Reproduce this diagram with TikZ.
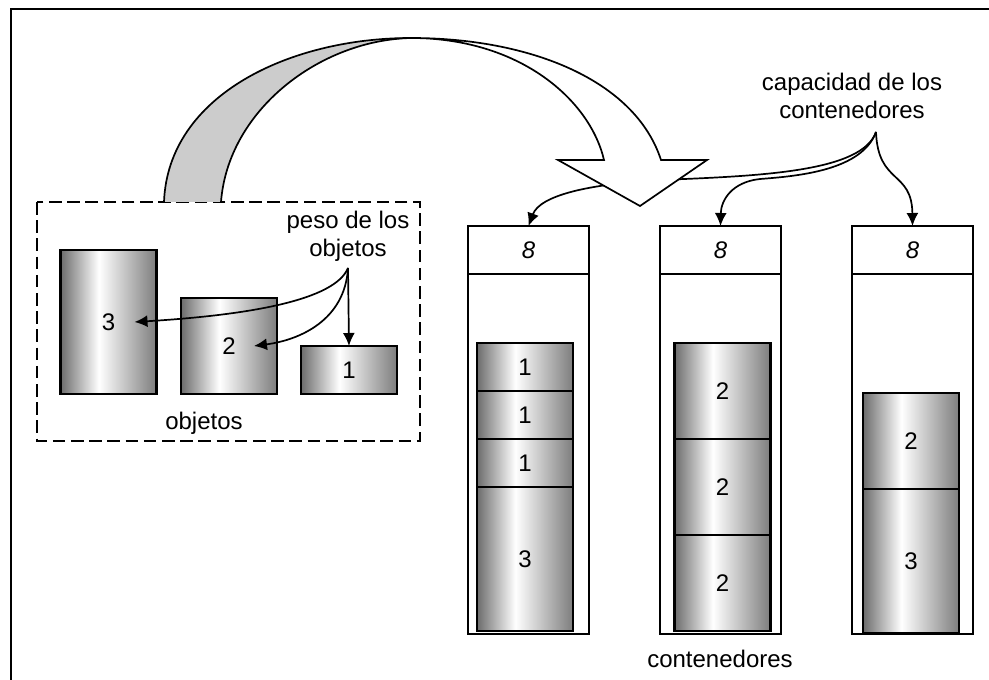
\documentclass[tikz,border=0pt]{standalone}
\usepackage{fontspec}
\setmainfont{Liberation Sans}
\usepackage{tikz}
\usetikzlibrary{arrows.meta, positioning}
\definecolor{itemdark}{RGB}{108, 108, 108}
\definecolor{itemgray}{RGB}{125, 125, 125}
\definecolor{ribbongray}{RGB}{204, 204, 204}
\pgfdeclarehorizontalshading{itemshade}{100bp}{color(0bp)=(itemdark); color(25bp)=(itemdark); color(45bp)=(white); color(75bp)=(itemgray); color(100bp)=(itemgray)}
\tikzset{>={Latex[length=6.5pt,width=6pt]}}
\tikzset{
  item/.style = {draw, line width = 1.1pt, shading = itemshade, minimum width = 48pt, outer sep = 0pt, inner sep = 0pt},
  header/.style = {draw, line width = 1pt, fill = white, minimum width = 60.5pt, minimum height = 24pt, outer sep = 0pt},
  label/.style = {align = center, inner sep = 0pt}
}

\begin{document}
\begin{tikzpicture}[x = 0.5pt, y = -0.5pt, font = \fontsize{12}{13.8}\selectfont]
\clip (0,0) rectangle (989,679);
\draw[line width = 1pt] (11,9) rectangle (1010,700);

% objetos
\draw[line width = 0.8pt, dash pattern = on 6.3pt off 2.8pt] (37,202) rectangle (420,441);
\node[item, minimum height = 72pt] (o3) at (108.5,322) {3};
\node[item, minimum height = 48pt] (o2) at (229,346) {2};
\node[item, minimum height = 24pt] (o1) at (349,370) {1};
\node[label] (objetos) at (204,423) {objetos};
\node[label] (peso) at (348,236) {peso de los\\objetos};
\coordinate (pesofoot) at (348,268);
\draw[->, line width = 0.85pt] (pesofoot) .. controls (335,300) and (250,315) .. ([xshift = 13pt]o3.center);
\draw[->, line width = 0.85pt] (pesofoot) .. controls (345,320) and (300,340) .. ([xshift = 12.5pt]o2.center);
\draw[->, line width = 0.85pt] (pesofoot) -- (o1.north);

% contenedores
\coordinate (floor) at (0,634);
\node[header] (h1) at (528.5,250) {\textit{8}};
\node[header] (h2) at (720.5,250) {\textit{8}};
\node[header] (h3) at (912.5,250) {\textit{8}};
\foreach \b in {h1, h2, h3}
  \draw[line width = 1pt] (\b.south west) rectangle (\b.south east |- floor);

\node[item, minimum height = 24pt, anchor = north] (b11) at (525,343) {1};
\node[item, minimum height = 24pt, below = 0pt of b11] (b12) {1};
\node[item, minimum height = 24pt, below = 0pt of b12] (b13) {1};
\node[item, minimum height = 72pt, below = 0pt of b13] (b14) {3};

\node[item, minimum height = 48pt, anchor = north] (b21) at (722.5,343) {2};
\node[item, minimum height = 48pt, below = 0pt of b21] (b22) {2};
\node[item, minimum height = 48pt, below = 0pt of b22] (b23) {2};

\node[item, minimum height = 48pt, anchor = north] (b31) at (911,393) {2};
\node[item, minimum height = 72pt, below = 0pt of b31] (b32) {3};

\node[label] (contenedores) at (720,659) {contenedores};
\node[label] (capacidad) at (852,96) {capacidad de los\\contenedores};
\coordinate (capfoot) at (876,132);
\draw[->, line width = 0.85pt] (capfoot) .. controls (862,172) and (760,176) .. (660,180) .. controls (590,184) and (540,195) .. (h1.north);
\draw[->, line width = 0.85pt] (capfoot) .. controls (862,170) and (800,176) .. (760,179) .. controls (732,182) and (721,200) .. (h2.north);
\draw[->, line width = 0.85pt] (capfoot) .. controls (878,185) and (912,170) .. (h3.north);

% big arrow
\coordinate (footA) at (164,202);
\coordinate (footB) at (221,202);
\coordinate (apex) at (411,38);
\coordinate (innerR) at (604,160);
\coordinate (outerR) at (661,160);
\coordinate (barbL) at (558,160);
\coordinate (barbR) at (707,160);
\coordinate (tip) at (640,206);
\fill[ribbongray] (footA) .. controls (168,95) and (290,38) .. (apex) .. controls (320,40) and (228,110) .. (footB) -- cycle;
\filldraw[fill = white, line width = 0.85pt] (apex) .. controls (520,38) and (590,100) .. (innerR) -- (barbL) -- (tip) -- (barbR) -- (outerR) .. controls (635,80) and (530,38) .. (apex);
\draw[line width = 0.85pt] (footA) .. controls (168,95) and (290,38) .. (apex);
\draw[line width = 0.85pt] (footB) .. controls (228,110) and (320,40) .. (apex);
\end{tikzpicture}
\end{document}
